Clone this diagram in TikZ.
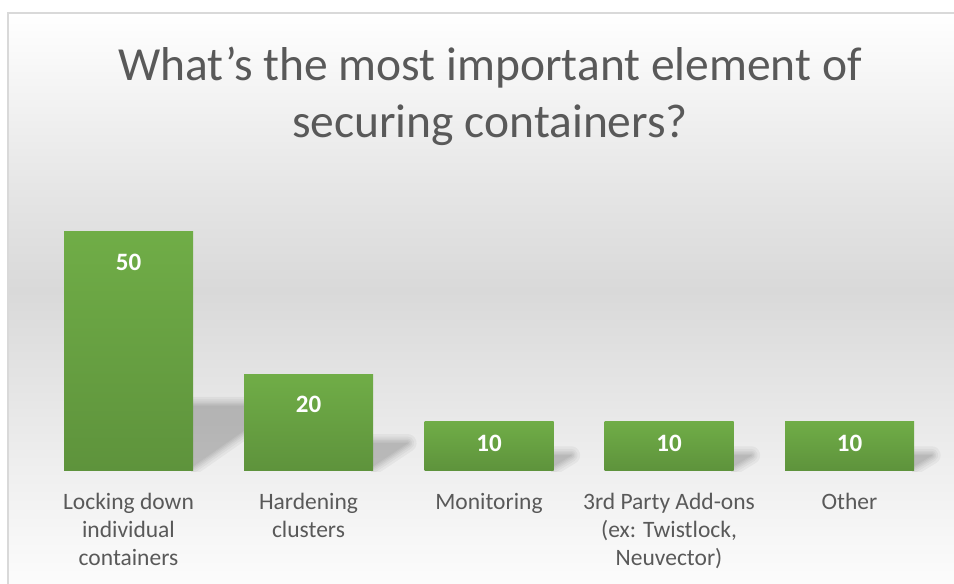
\documentclass[tikz,border=0pt]{standalone}
\usepackage{fontspec}
\setmainfont{Carlito}
\definecolor{txtgrey}{HTML}{595959}
\definecolor{barlight}{HTML}{70AD47}
\definecolor{bardark}{HTML}{5E933C}
\definecolor{framegrey}{HTML}{D9D9D9}
\definecolor{bgA}{HTML}{FCFCFC}
\definecolor{bgB}{HTML}{EFEFEF}
\definecolor{bgC}{HTML}{D9D9D9}
\definecolor{bgD}{HTML}{E4E4E4}
% chart area: light at top and bottom, grey in the middle
\pgfdeclareverticalshading{chartbg}{100bp}{color(0bp)=(bgA); color(25bp)=(bgA); color(35bp)=(bgB); color(50.7bp)=(bgC); color(58.6bp)=(bgD); color(75bp)=(white); color(100bp)=(white)}
\begin{document}
\begin{tikzpicture}[x=1pt,y=-1pt,
  lbl/.style={font=\fontsize{23.5}{28}\selectfont, text=txtgrey, align=center, anchor=base, inner sep=0pt},
  val/.style={font=\bfseries\fontsize{25}{28}\selectfont, text=white, anchor=base, inner sep=0pt},
  bar/.style={top color=barlight, bottom color=bardark, draw=none},
  title/.style={font=\fontsize{47.5}{57}\selectfont, text=txtgrey, align=center, anchor=base, inner sep=0pt}]
\useasboundingbox (0,0) rectangle (954,584);
\fill[white] (0,0) rectangle (954,584);
\shade[shading=chartbg] (8,13) rectangle (954,584);
\draw[framegrey, line width=1.5pt] (8,584) -- (8,13) -- (954,13);

% title (base anchor sits on the last line)
\node[title] (ttl) at (490,137) {What’s the most important element of\\securing containers?};

% soft perspective shadows cast to the right of each bar
\foreach \xl/\xr/\yt in {64/193/231, 244/373/374, 424.5/553.5/421, 604.5/733.5/421, 785/914/421}{
  \begin{scope}
    \clip (\xr-2,0) rectangle (954,471);
    \pgfmathsetmacro\hh{470-\yt}
    \foreach \w in {18,13,9,6,3,0.5}{
      \begin{scope}[transparency group, opacity=0.04]
        \filldraw[black, line width=\w pt, line join=round]
          (\xl,466) -- (\xr,466) -- ({\xr+0.36*\hh},{468-0.26*\hh}) -- ({\xl+0.36*\hh},{468-0.26*\hh}) -- cycle;
      \end{scope}
    }
  \end{scope}
}

% bars
\shade[bar] (64,231) rectangle (193,470);
\shade[bar] (244,374) rectangle (373,470);
\shade[bar] (424.5,421) rectangle (553.5,470);
\shade[bar] (604.5,421) rectangle (733.5,470);
\shade[bar] (785,421) rectangle (914,470);

% value labels
\node[val] (v1) at (128.5,270) {50};
\node[val] (v2) at (308.5,412) {20};
\node[val] (v3) at (489,451) {10};
\node[val] (v4) at (669,451) {10};
\node[val] (v5) at (849.5,451) {10};

% category labels (base anchor sits on the last line)
\node[lbl] (c1) at (128.5,565) {Locking down\\individual\\containers};
\node[lbl] (c2) at (308.5,537) {Hardening\\clusters};
\node[lbl] (c3) at (489,509) {Monitoring};
\node[lbl] (c4) at (669,565) {3rd Party Add-ons\\(ex: Twistlock,\\Neuvector)};
\node[lbl] (c5) at (849.5,509) {Other};
\end{tikzpicture}
\end{document}
